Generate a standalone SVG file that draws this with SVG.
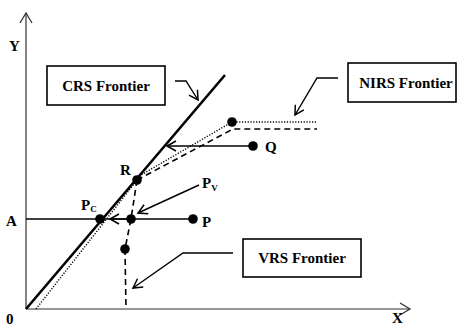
<svg xmlns="http://www.w3.org/2000/svg" width="457" height="327" viewBox="0 0 457 327">
<style>
text{font-family:"Liberation Serif","Times New Roman",serif;font-weight:bold;fill:#000}
.lbl{font-size:15px}
.sub{font-size:9px}
.box{fill:#fff;stroke:#000;stroke-width:1.6}
.ax{stroke:#333;stroke-width:1.2;fill:none}
.ln{stroke:#000;stroke-width:1.4;fill:none}
.crs{stroke:#000;stroke-width:2.6;fill:none}
.dot{stroke:#000;stroke-width:1.4;stroke-dasharray:1.2 1.6;fill:none}
.dash{stroke:#000;stroke-width:1.6;stroke-dasharray:6 4;fill:none}
.pt{fill:#000}
</style>
<defs>
<marker id="ah" markerUnits="userSpaceOnUse" markerWidth="14" markerHeight="14" refX="10" refY="6" orient="auto" viewBox="0 0 14 12">
<path d="M1,1 L10,6 L1,11" fill="none" stroke="#000" stroke-width="1.5"/>
</marker>
<marker id="axh" markerUnits="userSpaceOnUse" markerWidth="16" markerHeight="16" refX="11" refY="7" orient="auto" viewBox="0 0 16 14">
<path d="M1,1 L11,7 L1,13" fill="none" stroke="#333" stroke-width="1.3"/>
</marker>
</defs>
<g id="axes">
<path class="ax" d="M26,309 L26,13" marker-end="url(#axh)"/>
<path class="ax" d="M26,309 L410,309" marker-end="url(#axh)"/>
<text class="lbl" x="9" y="51">Y</text>
<text class="lbl" x="6" y="324">0</text>
<text class="lbl" x="392" y="323">X</text>
<text class="lbl" x="6" y="226">A</text>
</g>
<g id="connectors">
<path class="crs" d="M26,309 L225,75"/>
<path class="dot" d="M36,309 L141,175 L232,122 L317,122"/>
<path class="dash" d="M137,180 L233,129 L317,129"/>
<path class="dash" d="M137,180 L131,219 L125,249 L126,309"/>
<path class="ln" d="M26,219 L193,219"/>
<path class="ln" d="M131,219 L110,219" marker-end="url(#ah)"/>
<path class="ln" d="M253,146 L167,146" marker-end="url(#ah)"/>
<path class="ln" d="M175,81 L186,81 L198,100" marker-end="url(#ah)"/>
<path class="ln" d="M338,78 L317,78 L295,115" marker-end="url(#ah)"/>
<path class="ln" d="M199,185 L138,213" marker-end="url(#ah)"/>
<path class="ln" d="M233,253 L183,253 L133,288" marker-end="url(#ah)"/>
</g>
<g id="crs-box">
<rect class="box" x="47" y="66" width="118" height="39"/>
<text class="lbl" x="106" y="91" text-anchor="middle">CRS Frontier</text>
</g>
<g id="nirs-box">
<rect class="box" x="348" y="63" width="108" height="39"/>
<text class="lbl" x="406" y="88" text-anchor="middle">NIRS Frontier</text>
</g>
<g id="vrs-box">
<rect class="box" x="243" y="239" width="118" height="38"/>
<text class="lbl" x="302" y="263" text-anchor="middle">VRS Frontier</text>
</g>
<g id="R">
<circle class="pt" cx="137" cy="180" r="4.8"/>
<text class="lbl" x="120" y="175">R</text>
</g>
<g id="Q">
<circle class="pt" cx="253" cy="146" r="4.8"/>
<text class="lbl" x="265" y="152">Q</text>
</g>
<g id="top">
<circle class="pt" cx="232" cy="122" r="4.8"/>
</g>
<g id="Pc">
<circle class="pt" cx="100" cy="219" r="4.8"/>
<text class="lbl" x="81" y="210">P<tspan class="sub" dy="2">C</tspan></text>
</g>
<g id="Pv">
<circle class="pt" cx="131" cy="219" r="4.8"/>
<text class="lbl" x="202" y="188">P<tspan class="sub" dy="3">V</tspan></text>
</g>
<g id="P">
<circle class="pt" cx="193" cy="219" r="4.8"/>
<text class="lbl" x="202" y="227">P</text>
</g>
<g id="low">
<circle class="pt" cx="125" cy="249" r="4.8"/>
</g>
</svg>
